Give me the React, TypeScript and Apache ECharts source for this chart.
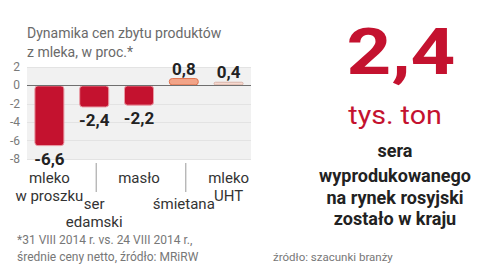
import React, { useEffect, useRef } from "react";
import * as echarts from "echarts";

const categories = ["mleko\nw proszku", "ser\nedamski", "masło", "śmietana", "mleko\nUHT"];
const values = [-6.6, -2.4, -2.2, 0.8, 0.4];
const separatorCategories = [1, 3];
const yMin = -8;
const yMax = 2;
const yStep = 2;
const titleText = "Dynamika cen zbytu produktów\nz mleka, w proc.*";
const footnoteText = "*31 VIII 2014 r. vs. 24 VIII 2014 r.,\nśrednie ceny netto, źródło: MRiRW";
const bigNumber = "2,4";
const bigUnit = "tys. ton";
const sideLines = ["sera", "wyprodukowanego", "na rynek rosyjski", "zostało w kraju"];
const sourceText = "źródło: szacunki branży";

const FONT = "Roboto, 'Noto Sans', sans-serif";
const RED = "#c4122f";
const fills = [RED, RED, RED, "#f2a488", "#f6d9cf"];
const borders = ["#e99aa4", "#e99aa4", "#e99aa4", "#e0734f", "#d9b3a8"];

export default function App() {
  const ref = useRef<HTMLDivElement>(null);
  useEffect(() => {
    if (!ref.current) return;
    const chart = echarts.init(ref.current, undefined, { renderer: "svg" });
    const fmt = (v: number) => String(v).replace(".", ",");
    const sideTexts = sideLines.map((t, i) => ({
      type: "text",
      x: 395,
      y: [150, 175, 197, 218][i],
      style: {
        text: t,
        fill: "#222",
        fontFamily: FONT,
        fontWeight: "bold",
        fontSize: 18,
        align: "center",
        verticalAlign: "middle",
      },
    }));
    chart.setOption({
      animation: false,
      backgroundColor: "#ffffff",
      title: {
        text: titleText,
        left: 22,
        top: 18,
        textStyle: {
          fontFamily: FONT,
          fontWeight: "normal",
          fontSize: 14,
          lineHeight: 19,
          color: "#6a6a6a",
        },
      },
      grid: {
        left: 27,
        right: 232,
        top: 67,
        bottom: 111,
        show: true,
        backgroundColor: "#f1f1f1",
        borderWidth: 0,
      },
      xAxis: {
        type: "category",
        data: categories,
        axisLine: { show: false, onZero: false },
        axisTick: { show: false },
        axisLabel: {
          interval: 0,
          margin: 10,
          formatter: (v: string, i: number) => {
            const lines = v.split("\n").map((l) => `{a|${l}}`).join("\n");
            return i % 2 === 1 ? `{sp| }\n${lines}` : lines;
          },
          rich: {
            a: { fontFamily: FONT, fontSize: 15, lineHeight: 18, color: "#333" },
            sp: { fontSize: 10, lineHeight: 26 },
          },
        },
      },
      yAxis: {
        type: "value",
        min: yMin,
        max: yMax,
        interval: yStep,
        axisLine: { show: false },
        axisTick: { show: false },
        splitLine: { show: true, lineStyle: { color: "#e3e3e3", width: 1 } },
        axisLabel: {
          margin: 7,
          fontFamily: FONT,
          fontSize: 12,
          color: "#7a7a7a",
        },
      },
      series: [
        {
          type: "bar",
          barWidth: 30,
          data: values.map((v, i) => ({
            value: v,
            itemStyle: {
              color: fills[i],
              borderColor: borders[i],
              borderWidth: 1,
              borderRadius: 3,
            },
            label: {
              show: true,
              position: v < 0 ? "bottom" : "top",
              distance: v < 0 ? 4 : 1,
            },
          })),
          label: {
            formatter: (p: any) => fmt(p.value),
            fontFamily: FONT,
            fontWeight: "bold",
            fontSize: 17,
            lineHeight: 17,
            color: "#222",
          },
          markLine: {
            silent: true,
            symbol: "none",
            label: { show: false },
            lineStyle: { color: "#6f6f6f", width: 1.2, type: "solid" },
            data: [{ yAxis: 0 }],
          },
        },
        {
          type: "custom",
          silent: true,
          clip: false,
          data: separatorCategories.map((c) => [c, yMin]),
          encode: { x: 0, y: 1 },
          renderItem: (_params: any, api: any) => {
            const p = api.coord([api.value(0), api.value(1)]);
            return {
              type: "line",
              shape: { x1: p[0] + 2, y1: p[1] + 4, x2: p[0] + 2, y2: p[1] + 33 },
              style: { stroke: "#9a9a9a", lineWidth: 1 },
            };
          },
        },
      ],
      graphic: [
        {
          type: "text",
          x: 401,
          y: 52,
          scaleX: 1.22,
          style: {
            text: bigNumber,
            fill: RED,
            fontFamily: FONT,
            fontWeight: "bold",
            fontSize: 64,
            align: "center",
            verticalAlign: "middle",
          },
        },
        {
          type: "text",
          x: 395,
          y: 115,
          scaleX: 1.1,
          style: {
            text: bigUnit,
            fill: RED,
            fontFamily: FONT,
            fontSize: 26,
            align: "center",
            verticalAlign: "middle",
          },
        },
        ...sideTexts,
        {
          type: "text",
          x: 17,
          y: 231,
          style: {
            text: footnoteText,
            fill: "#777",
            fontFamily: FONT,
            fontSize: 12,
            lineHeight: 17,
            align: "left",
            verticalAlign: "top",
          },
        },
        {
          type: "text",
          x: 273,
          y: 257,
          style: {
            text: sourceText,
            fill: "#777",
            fontFamily: FONT,
            fontSize: 11.5,
            align: "left",
            verticalAlign: "middle",
          },
        },
      ],
    });
    return () => chart.dispose();
  }, []);
  return (
    <div
      ref={ref}
      style={{ position: "fixed", left: 0, top: 0, width: 483, height: 270, background: "#fff" }}
    />
  );
}
